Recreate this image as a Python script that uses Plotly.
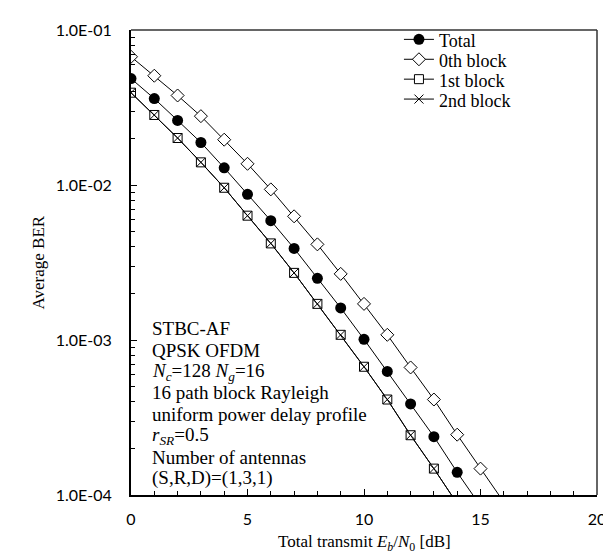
import plotly.graph_objects as go

# ---- data ----
snr_total = [0, 1, 2, 3, 4, 5, 6, 7, 8, 9, 10, 11, 12, 13, 14, 15]
ber_total = [0.0486, 0.0361, 0.0261, 0.0188, 0.0129, 0.0087, 0.00589, 0.0039, 0.0025,
             0.00161, 0.00101, 0.000627, 0.000387, 0.000238, 0.00014, 0.000085]

snr_0th = [0, 1, 2, 3, 4, 5, 6, 7, 8, 9, 10, 11, 12, 13, 14, 15, 16]
ber_0th = [0.0672, 0.0507, 0.0378, 0.0278, 0.0196, 0.0137, 0.00937, 0.00628, 0.00414,
           0.00267, 0.00171, 0.00108, 0.000665, 0.000413, 0.000245, 0.000148, 0.00009]

snr_1st = [0, 1, 2, 3, 4, 5, 6, 7, 8, 9, 10, 11, 12, 13, 14]
ber_1st = [0.0394, 0.0283, 0.0201, 0.0140, 0.0096, 0.00634, 0.0042, 0.00271, 0.00171,
           0.00108, 0.000672, 0.000413, 0.000243, 0.000148, 0.000088]

snr_2nd = [0, 1, 2, 3, 4, 5, 6, 7, 8, 9, 10, 11, 12, 13, 14]
ber_2nd = [0.0394, 0.0283, 0.0201, 0.0140, 0.0096, 0.00634, 0.0042, 0.00271, 0.00171,
           0.00108, 0.000672, 0.000413, 0.000243, 0.000148, 0.000088]

series_names = ["Total", "0th block", "1st block", "2nd block"]

x_ticks = [0, 5, 10, 15, 20]
y_ticks = [1e-1, 1e-2, 1e-3, 1e-4]
y_ticktext = ["1.0E-01", "1.0E-02", "1.0E-03", "1.0E-04"]

x_title = "Total transmit <i>E</i><sub><i>b</i></sub>/<i>N</i><sub>0</sub> [dB]"
y_title = "Average BER"

info_lines = [
    "STBC-AF",
    "QPSK OFDM",
    "<i>N</i><sub><i>c</i></sub>=128 <i>N</i><sub><i>g</i></sub>=16",
    "16 path block Rayleigh",
    "uniform power delay profile",
    "<i>r</i><sub><i>SR</i></sub>=0.5",
    "Number of antennas",
    "(S,R,D)=(1,3,1)",
]

SERIF = "Liberation Serif, Times New Roman, serif"
SANS = "Lato, Carlito, Calibri, sans-serif"


def legend_label(s):
    return '<span style="font-size:18px;baseline-shift:-3px">' + s + "</span>"


fig = go.Figure()
fig.add_trace(go.Scatter(x=snr_total, y=ber_total, name=legend_label(series_names[0]),
                         mode="lines+markers", line=dict(color="black", width=1),
                         marker=dict(symbol="circle", size=11, color="black")))
fig.add_trace(go.Scatter(x=snr_0th, y=ber_0th, name=legend_label(series_names[1]),
                         mode="lines+markers", line=dict(color="black", width=1),
                         marker=dict(symbol="diamond", size=10, color="white",
                                     line=dict(color="black", width=1))))
fig.add_trace(go.Scatter(x=snr_1st, y=ber_1st, name=legend_label(series_names[2]),
                         mode="lines+markers", line=dict(color="black", width=1),
                         marker=dict(symbol="square", size=9, color="white",
                                     line=dict(color="black", width=1))))
fig.add_trace(go.Scatter(x=snr_2nd, y=ber_2nd, name=legend_label(series_names[3]),
                         mode="lines+markers", line=dict(color="black", width=1),
                         marker=dict(symbol="x-thin", size=9, color="black",
                                     line=dict(color="black", width=1))))

n = len(info_lines)
top_px, bot_px = 12, 487
H = bot_px - top_px
for i, t in enumerate(info_lines):
    yc = 470 - 21.8 * (n - 1 - i)
    fig.add_annotation(text=t, xref="paper", yref="paper", x=0.04,
                       y=(bot_px - yc) / H, xanchor="left", yanchor="middle",
                       showarrow=False, font=dict(family=SERIF, size=19, color="black"))

# axis titles
fig.add_annotation(text=x_title, xref="paper", yref="paper", x=0.5, y=(bot_px - 536) / H,
                   xanchor="center", yanchor="middle", showarrow=False,
                   font=dict(family=SERIF, size=17, color="black"))
fig.add_annotation(text=y_title, xref="paper", yref="paper", x=(30 - 123) / 466, y=0.5,
                   xanchor="center", yanchor="middle", textangle=-90, showarrow=False,
                   font=dict(family=SERIF, size=17, color="black"))

# top and right frame (grey)
fig.add_shape(type="line", xref="paper", yref="paper", x0=0, x1=1, y0=1, y1=1,
              line=dict(color="#666666", width=2))
fig.add_shape(type="line", xref="paper", yref="paper", x0=1, x1=1, y0=0, y1=1,
              line=dict(color="#333333", width=1.5))

fig.update_layout(
    width=611, height=554,
    margin=dict(l=123, r=22, t=12, b=67),
    paper_bgcolor="white", plot_bgcolor="white",
    showlegend=True,
    legend=dict(x=0.575, y=1.012, xanchor="left", yanchor="top",
                bgcolor="rgba(0,0,0,0)", font=dict(family=SERIF, size=13, color="black"),
                tracegroupgap=0, itemwidth=30),
    xaxis=dict(range=[0, 20], tickvals=x_ticks, ticks="inside", ticklen=6, tickwidth=1,
               tickcolor="black", showline=True, linecolor="black", linewidth=2,
               showgrid=False, zeroline=False, ticklabelstandoff=9,
               tickfont=dict(family=SANS, size=16, color="black"),
               minor=dict(tickvals=list(range(0, 21)), ticks="inside", ticklen=4,
                          tickcolor="black", tickwidth=1)),
    yaxis=dict(type="log", range=[-4, -1], tickvals=y_ticks, ticktext=y_ticktext,
               ticks="inside", ticklen=6, tickwidth=1, tickcolor="black",
               showline=True, linecolor="black", linewidth=2, showgrid=False,
               zeroline=False, ticklabelstandoff=14,
               tickfont=dict(family=SANS, size=16, color="black"),
               minor=dict(tickvals=[m * 10 ** e for e in (-4, -3, -2) for m in range(2, 10)],
                          ticks="inside", ticklen=4, tickcolor="black", tickwidth=1)),
)

fig.write_html("out.html")
